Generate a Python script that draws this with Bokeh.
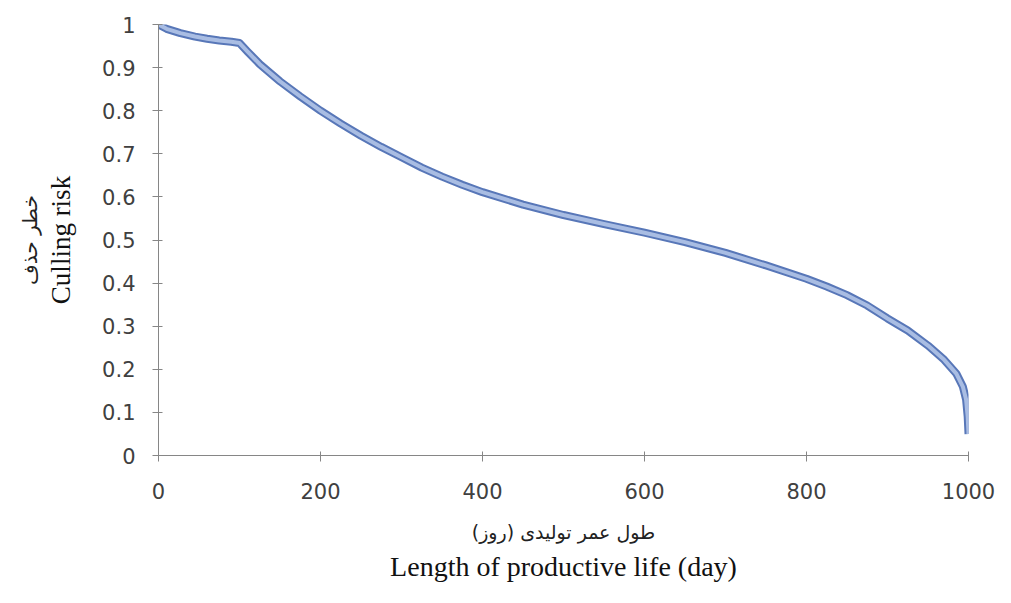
from bokeh.plotting import figure
from bokeh.models import Range1d, FixedTicker, Title, ColumnDataSource
from bokeh.embed import file_html
from bokeh.resources import INLINE

# ---- data ----
days = [0, 10, 27, 45, 60, 75, 90, 100, 110, 125, 150, 175, 200, 225, 250, 275, 300,
        325, 350, 375, 400, 450, 500, 550, 600, 650, 700, 750, 800, 825, 850, 875,
        900, 925, 950, 970, 985, 993, 997, 999, 1000]
risk = [1.0, 0.99, 0.98, 0.972, 0.967, 0.963, 0.96, 0.957, 0.937, 0.908, 0.868, 0.833,
        0.800, 0.770, 0.742, 0.716, 0.692, 0.668, 0.647, 0.628, 0.611, 0.582, 0.558,
        0.537, 0.517, 0.495, 0.470, 0.441, 0.410, 0.392, 0.372, 0.348, 0.318, 0.290,
        0.255, 0.222, 0.190, 0.160, 0.130, 0.09, 0.05]

x_ticks = [0, 200, 400, 600, 800, 1000]
y_ticks = [0, 0.1, 0.2, 0.3, 0.4, 0.5, 0.6, 0.7, 0.8, 0.9, 1.0]
y_tick_labels = ["0", "0.1", "0.2", "0.3", "0.4", "0.5", "0.6", "0.7", "0.8", "0.9", "1"]

x_title_fa = "طول عمر تولیدی (روز)"
x_title_en = "Length of productive life (day)"
y_title_fa = "خطر حذف"
y_title_en = "Culling risk"

src = ColumnDataSource(dict(x=days, y=risk))

p = figure(width=995, height=587, output_backend="svg", toolbar_location=None,
           x_range=Range1d(0, 1000), y_range=Range1d(0, 1),
           min_border_left=158, min_border_right=27, min_border_top=24,
           min_border_bottom=132)
p.outline_line_color = None
p.xgrid.grid_line_color = None
p.ygrid.grid_line_color = None
p.background_fill_color = "white"
p.border_fill_color = "white"

# band-like curve: darker edge, lighter core
p.line("x", "y", source=src, line_width=8, line_color="#5877b8", line_join="round")
p.line("x", "y", source=src, line_width=4, line_color="#a9bde3", line_join="round")

axis_color = "#868686"
for ax in (p.xaxis[0], p.yaxis[0]):
    ax.axis_line_color = axis_color
    ax.major_tick_line_color = axis_color
    ax.minor_tick_line_color = None
    ax.major_tick_in = 4
    ax.major_tick_out = 6
    ax.major_label_text_font = "DejaVu Sans"
    ax.major_label_text_font_size = "21px"
    ax.major_label_text_color = "#404040"

p.xaxis.ticker = FixedTicker(ticks=x_ticks)
p.yaxis.ticker = FixedTicker(ticks=y_ticks)
p.yaxis.major_label_overrides = {t: l for t, l in zip(y_ticks, y_tick_labels)}
p.xaxis.major_label_standoff = 21
p.yaxis.major_label_standoff = 17

p.xaxis.axis_label = x_title_fa
p.xaxis.axis_label_text_font = "DejaVu Sans"
p.xaxis.axis_label_text_font_style = "normal"
p.xaxis.axis_label_text_font_size = "19px"
p.xaxis.axis_label_text_color = "#222222"
p.xaxis.axis_label_standoff = 19

p.yaxis.axis_label = y_title_en
p.yaxis.axis_label_text_font = "Liberation Serif"
p.yaxis.axis_label_text_font_style = "normal"
p.yaxis.axis_label_text_font_size = "27px"
p.yaxis.axis_label_text_color = "#111111"
p.yaxis.axis_label_standoff = 23

t_x = Title(text=x_title_en, align="center", text_font="Liberation Serif",
            text_font_size="28px", text_font_style="normal", text_color="#111111",
            standoff=6)
p.add_layout(t_x, "below")

t_y = Title(text=y_title_fa, align="center", text_font="DejaVu Sans",
            text_font_size="20px", text_font_style="normal", text_color="#222222",
            standoff=3)
p.add_layout(t_y, "left")

open("out.html", "w").write(file_html(p, INLINE))
